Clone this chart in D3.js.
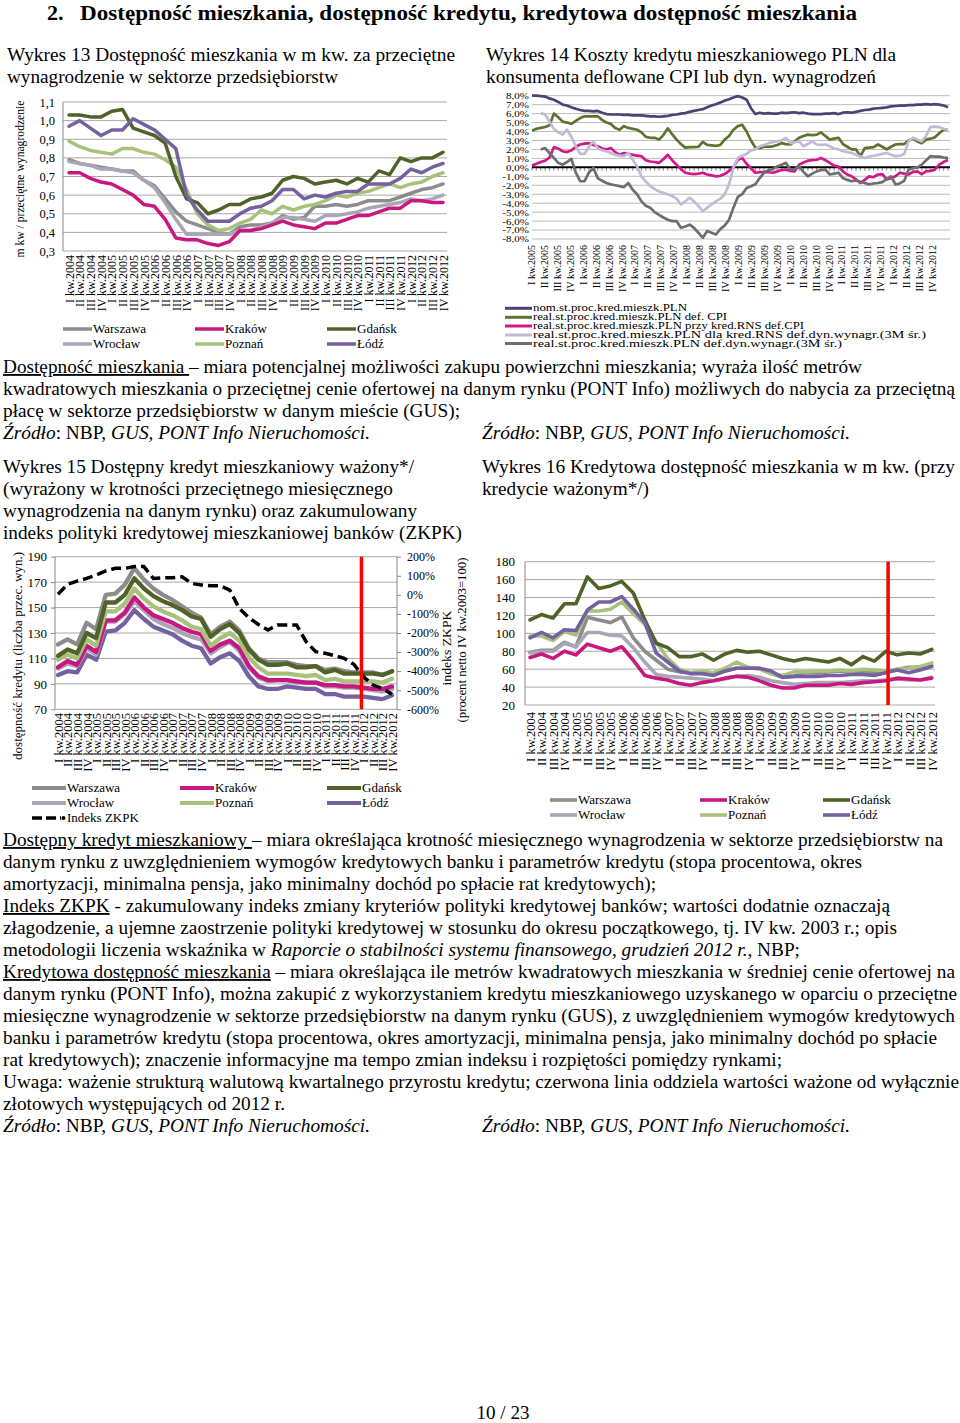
<!DOCTYPE html>
<html>
<head>
<meta charset="utf-8">
<script src="https://cdn.jsdelivr.net/npm/d3@7/dist/d3.min.js"></script>
<style>
  body { margin: 0; background: #fff; }
  svg { display: block; }
</style>
</head>
<body>
<div id="root"></div>
<script>
const serif = '"Liberation Serif", "Times New Roman", serif'

// ---- data -----------------------------------------------------------------
const quarters = [
  'I kw.2004', 'II kw.2004', 'III kw.2004', 'IV kw.2004',
  'I kw.2005', 'II kw.2005', 'III kw.2005', 'IV kw.2005',
  'I kw.2006', 'II kw.2006', 'III kw.2006', 'IV kw.2006',
  'I kw.2007', 'II kw.2007', 'III kw.2007', 'IV kw.2007',
  'I kw.2008', 'II kw.2008', 'III kw.2008', 'IV kw.2008',
  'I kw.2009', 'II kw.2009', 'III kw.2009', 'IV kw.2009',
  'I kw.2010', 'II kw.2010', 'III kw.2010', 'IV kw.2010',
  'I kw.2011', 'II kw.2011', 'III kw.2011', 'IV kw.2011',
  'I kw.2012', 'II kw.2012', 'III kw.2012', 'IV kw.2012',
]
const quarters14 = quarters.slice(4)

// Wykres 13: m kw / przecietne wynagrodzenie
const warszawa13 = [0.79, 0.77, 0.76, 0.75, 0.74, 0.73, 0.73, 0.68, 0.65, 0.58, 0.51, 0.46, 0.44, 0.42, 0.40, 0.39, 0.43, 0.44, 0.44, 0.45, 0.49, 0.47, 0.48, 0.54, 0.54, 0.55, 0.54, 0.55, 0.57, 0.57, 0.57, 0.59, 0.61, 0.63, 0.64, 0.66]
const wroclaw13 = [0.78, 0.77, 0.76, 0.74, 0.74, 0.73, 0.72, 0.68, 0.64, 0.56, 0.47, 0.39, 0.39, 0.39, 0.39, 0.39, 0.41, 0.41, 0.43, 0.45, 0.48, 0.48, 0.47, 0.46, 0.49, 0.49, 0.50, 0.51, 0.53, 0.54, 0.55, 0.56, 0.58, 0.57, 0.58, 0.60]
const krakow13 = [0.72, 0.72, 0.69, 0.67, 0.66, 0.63, 0.60, 0.55, 0.54, 0.47, 0.37, 0.36, 0.36, 0.34, 0.33, 0.35, 0.41, 0.41, 0.42, 0.44, 0.46, 0.44, 0.43, 0.42, 0.45, 0.45, 0.47, 0.49, 0.49, 0.51, 0.53, 0.53, 0.57, 0.57, 0.56, 0.56]
const poznan13 = [0.89, 0.86, 0.84, 0.83, 0.82, 0.85, 0.85, 0.83, 0.82, 0.79, 0.75, 0.63, 0.50, 0.44, 0.41, 0.42, 0.45, 0.47, 0.52, 0.50, 0.54, 0.52, 0.54, 0.55, 0.57, 0.60, 0.59, 0.61, 0.62, 0.64, 0.66, 0.64, 0.66, 0.67, 0.70, 0.72]
const gdansk13 = [1.03, 1.03, 1.02, 1.02, 1.05, 1.06, 0.96, 0.94, 0.92, 0.88, 0.70, 0.58, 0.56, 0.50, 0.52, 0.55, 0.55, 0.58, 0.59, 0.61, 0.68, 0.70, 0.69, 0.66, 0.67, 0.68, 0.66, 0.69, 0.67, 0.73, 0.71, 0.80, 0.78, 0.80, 0.80, 0.83]
const lodz13 = [0.97, 1.00, 0.96, 0.92, 0.95, 0.95, 1.01, 0.98, 0.95, 0.90, 0.85, 0.60, 0.52, 0.46, 0.46, 0.46, 0.50, 0.53, 0.54, 0.57, 0.63, 0.63, 0.58, 0.60, 0.59, 0.61, 0.62, 0.62, 0.66, 0.66, 0.66, 0.69, 0.74, 0.72, 0.75, 0.77]

// Wykres 14: monthly, I 2005 - XII 2012 (%)
const nomPLN = [
  8.0, 8.0, 7.95, 7.9, 7.7, 7.55, 7.3, 7.0, 6.9, 6.7, 6.55, 6.4,
  6.3, 6.3, 6.25, 6.3, 6.1, 5.95, 5.9, 5.9, 5.9, 5.85, 5.85, 5.8,
  5.8, 5.8, 5.75, 5.7, 5.7, 5.65, 5.7, 5.75, 5.85, 5.9, 6.0, 6.05,
  6.2, 6.3, 6.4, 6.5, 6.7, 6.9, 7.05, 7.25, 7.45, 7.6, 7.8, 7.95,
  7.8, 7.55, 6.6, 5.95, 6.1, 6.0, 6.05, 6.0, 6.0, 6.1, 6.05, 6.1,
  6.15, 6.05, 6.1, 6.0, 5.95, 5.95, 5.95, 6.0, 6.0, 6.05, 5.95, 6.1,
  6.15, 6.1, 6.2, 6.3, 6.4, 6.45, 6.55, 6.6, 6.65, 6.7, 6.8, 6.85,
  6.9, 6.9, 6.95, 6.95, 7.0, 7.0, 7.05, 7.0, 7.05, 7.0, 6.9, 6.7,
]
const realCPI = [
  4.1, 4.3, 4.4, 4.5, 4.7, 6.0, 5.6, 5.1, 5.0, 4.85, 5.2, 5.5,
  5.7, 5.7, 5.7, 5.7, 5.3, 5.0, 4.85, 4.4, 4.2, 4.6, 4.4, 4.3,
  4.2, 3.9, 3.4, 3.3, 3.3, 3.1, 3.6, 4.35, 3.7, 3.1, 2.6, 2.2,
  2.25, 2.25, 2.3, 2.85, 2.5, 2.45, 2.4, 2.5, 3.1, 3.5, 4.2, 4.6,
  4.75, 4.0, 3.0, 2.2, 2.15, 2.3, 2.3, 2.35, 2.5, 2.7, 2.6, 2.55,
  2.9, 3.3, 3.5, 3.65, 3.6, 3.65, 3.9, 3.5, 3.1, 3.2, 3.3, 2.6,
  2.3, 2.0, 2.0, 1.25, 2.15, 2.2, 2.25, 2.55, 2.3, 2.0, 2.3, 2.55,
  2.6, 2.6, 3.0, 3.2, 2.9, 2.7, 3.1, 3.2, 3.35, 3.8, 4.2, 4.2,
]
const realRnsCPI = [
  0.2, 0.4, 0.6, 0.75, 1.1, 2.25, 2.1, 1.8, 1.7, 1.9, 2.3, 2.55,
  2.65, 2.7, 2.5, 2.35, 2.1, 2.0, 2.15, 1.7, 1.4, 1.6, 1.5, 1.4,
  1.3, 1.25, 0.8, 0.65, 0.6, 0.5, 0.9, 1.4, 0.8, 0.3, -0.2, -0.6,
  -0.7, -0.75, -0.7, -0.6, -0.8, -0.9, -1.0, -0.95, -0.75, -0.4, 0.0, 0.85,
  1.05, 0.4, -0.1, -0.6, -0.55, -0.5, -0.55, -0.6, -0.45, -0.3, -0.25, -0.4,
  -0.45, 0.3, 0.55, 0.75, 0.8, 0.85, 1.05, 0.8, 0.5, 0.2, 0.1, -0.45,
  -0.8, -1.0, -1.35, -1.75, -1.4, -1.0, -1.1, -0.8, -0.75, -1.35, -1.2, -1.0,
  -0.6, -0.7, -0.8, -0.5, -0.45, -0.75, -0.45, -0.4, -0.25, 0.3, 0.6, 0.85,
]
const realRnsWage = [
  null, null, 6.05, 5.9, 5.1, 4.3, 3.9, 3.65, 4.2, 3.4, 2.35, 1.5,
  1.5, 2.3, 2.9, 2.15, 1.9, 1.8, 1.6, 1.4, 1.3, 1.25, 1.6, 0.85,
  0.1, -1.0, -1.6, -2.1, -2.4, -2.7, -2.85, -3.0, -3.2, -3.5, -4.15, -3.8,
  -3.4, -3.8, -4.3, -4.9, -4.5, -4.15, -3.8, -3.5, -3.0, -1.9, -0.05, 1.05,
  1.3, 1.5, 1.9, 2.0, 2.35, 2.5, 2.7, 2.8, 2.9, 3.0, 3.3, 2.7,
  2.8, 2.9, 2.35, 2.6, 2.9, 2.55, 2.5, 2.55, 2.35, 2.1, 2.0, 1.8,
  1.7, 1.6, 1.4, 1.2, 1.05, 1.2, 1.3, 1.4, 1.5, 1.6, 1.4, 1.25,
  1.3, 1.5, 2.9, 3.3, 3.1, 2.9, 3.5, 4.5, 4.55, 4.5, 4.3, 4.2,
]
const realWage = [
  null, null, 2.0, 2.15, 1.6, 1.05, 0.5, 0.3, 0.6, 0.95, -0.6, -1.55,
  -1.55, -0.6, -0.05, -1.2, -1.5, -1.75, -1.9, -2.0, -2.1, -2.2, -1.75, -2.5,
  -3.0, -3.8, -4.3, -4.5, -5.0, -5.3, -5.6, -5.85, -6.0, -6.0, -6.75, -6.6,
  -6.4, -6.75, -7.3, -7.85, -7.1, -7.3, -7.5, -6.9, -6.5, -5.85, -4.5, -3.3,
  -3.0, -2.3, -2.1, -1.9, -1.2, -0.6, -0.3, -0.2, 0.1, 0.3, 0.5, -0.25,
  -0.2, 0.1, -0.5, -1.0, -0.7, -0.45, -0.3, -0.25, -0.8, -0.7, -0.6, -1.2,
  -1.4, -1.55, -1.45, -1.6, -1.75, -1.9, -1.8, -1.75, -1.65, -1.3, -1.0, -1.9,
  -1.8, -1.5, -0.25, -0.1, 0.0, 0.3, 0.8, 1.25, 1.2, 1.2, 1.1, 1.05,
]
const labels14 = [
  'nom.st.proc.kred.mieszk.PLN',
  'real.st.proc.kred.mieszk.PLN def. CPI',
  'real.st.proc.kred.mieszk.PLN przy kred.RNS def.CPI',
  'real.st.proc.kred.mieszk.PLN dla kred.RNS def.dyn.wynagr.(3M śr.)',
  'real.st.proc.kred.mieszk.PLN def.dyn.wynagr.(3M śr.)',
]

// Wykres 15: dostepny kredyt (liczba przec. wyn.) + indeks ZKPK (%)
const warszawa15 = [121, 125, 121, 138, 133, 160, 161, 168, 181, 172, 165, 160, 156, 151, 146, 142, 129, 135, 139, 132, 118, 110, 107, 107, 107, 105, 104, 104, 101, 102, 100, 99, 99, 99, 97, 100]
const wroclaw15 = [102, 106, 104, 118, 113, 139, 139, 145, 155, 148, 141, 137, 134, 130, 127, 125, 114, 119, 123, 116, 103, 95, 92, 93, 93, 91, 91, 91, 88, 88, 87, 87, 86, 85, 84, 86]
const krakow15 = [103, 108, 105, 120, 115, 140, 140, 146, 158, 150, 144, 141, 138, 134, 131, 129, 116, 121, 124, 118, 104, 96, 93, 93, 93, 92, 91, 91, 89, 89, 88, 88, 87, 86, 86, 88]
const poznan15 = [109, 113, 110, 125, 120, 147, 147, 153, 165, 157, 151, 147, 144, 140, 135, 133, 120, 126, 130, 124, 111, 103, 98, 98, 98, 97, 96, 97, 93, 94, 92, 92, 92, 92, 91, 94]
const gdansk15 = [112, 117, 114, 130, 126, 154, 154, 160, 173, 165, 159, 155, 152, 148, 143, 141, 127, 133, 137, 130, 117, 109, 105, 105, 106, 103, 103, 104, 99, 101, 98, 98, 98, 98, 97, 100]
const lodz15 = [97, 100, 99, 113, 109, 131, 132, 138, 148, 141, 135, 132, 129, 124, 120, 118, 106, 111, 114, 108, 96, 88, 86, 86, 88, 87, 86, 86, 82, 82, 80, 80, 80, 79, 78, 81]
const zkpk = [3, 55, 72, 86, 104, 125, 139, 139, 148, 148, 86, 90, 90, 95, 60, 52, 48, 48, 25, -71, -120, -155, -184, -158, -158, -158, -245, -298, -306, -319, -333, -364, -429, -473, -490, -521]

// Wykres 16: kredytowa dostepnosc mieszkania (m kw.)
const warszawa16 = [79, 81, 81, 90, 85, 118, 115, 112, 118, 95, 80, 70, 60, 57, 56, 57, 55, 58, 61, 61, 61, 55, 51, 52, 56, 56, 57, 58, 57, 57, 56, 57, 60, 62, 62, 64]
const wroclaw16 = [78, 80, 80, 89, 85, 101, 101, 98, 97, 84, 68, 54, 52, 51, 50, 49, 47, 49, 52, 53, 51, 47, 45, 43, 44, 45, 45, 45, 46, 47, 47, 48, 49, 48, 48, 51]
const krakow16 = [73, 77, 72, 80, 76, 88, 84, 80, 85, 70, 53, 50, 48, 44, 42, 45, 47, 50, 52, 51, 47, 42, 39, 39, 42, 42, 42, 44, 43, 45, 46, 47, 50, 49, 48, 50]
const poznan16 = [97, 97, 92, 102, 98, 125, 125, 127, 135, 122, 110, 90, 72, 60, 56, 58, 56, 61, 68, 62, 60, 55, 53, 57, 57, 58, 58, 59, 58, 60, 59, 58, 60, 61, 63, 67]
const gdansk16 = [115, 121, 117, 133, 133, 163, 150, 153, 158, 145, 115, 89, 84, 74, 74, 77, 70, 77, 81, 79, 80, 76, 72, 69, 72, 70, 68, 72, 65, 74, 69, 80, 76, 78, 77, 82]
const lodz16 = [95, 101, 95, 104, 103, 126, 135, 135, 141, 127, 112, 78, 68, 58, 55, 55, 53, 58, 61, 61, 61, 58, 51, 52, 52, 52, 53, 53, 54, 54, 53, 56, 59, 56, 59, 63]

// position (in quarter index) of the red separator line
const redLine15 = 31.8
const redLine16 = 31.2

// ---- styles -----------------------------------------------------------------
const cityColor = {
  'Warszawa': '#8c8c8c', 'Wrocław': '#aaa6b8', 'Kraków': '#c8177f',
  'Poznań': '#a8c27c', 'Gdańsk': '#4f6228', 'Łódź': '#7461a0',
}
const legendOrder = ['Warszawa', 'Kraków', 'Gdańsk', 'Wrocław', 'Poznań', 'Łódź']
const colors14 = ['#4e4275', '#5c7430', '#d4168b', '#c2bad6', '#6e6e6e']

const svg = d3.select('#root').append('svg').attr('width', 960).attr('height', 1423)
  .attr('font-family', serif)

// ---- text helpers ---------------------------------------------------------------
function textLine(x, y, parts, opt = {}) {
  const t = svg.append('text').attr('x', x).attr('y', y)
    .attr('font-size', opt.size || 18.5)
    .attr('font-weight', opt.bold ? 'bold' : null)
  if (opt.width) t.attr('textLength', opt.width).attr('lengthAdjust', 'spacingAndGlyphs')
  const list = typeof parts === 'string' ? [[parts]] : parts
  for (const [s, st = ''] of list) {
    t.append('tspan').text(s)
      .attr('font-style', st.includes('i') ? 'italic' : null)
      .attr('text-decoration', st.includes('u') ? 'underline' : null)
  }
  return t
}

function rotLabel(x, y, s, size, width) {
  const t = svg.append('text').attr('transform', `translate(${x},${y}) rotate(-90)`)
    .attr('text-anchor', 'middle').attr('font-size', size).text(s)
  if (width) t.attr('textLength', width).attr('lengthAdjust', 'spacingAndGlyphs')
}

const pct = (d) => (d < 0 ? '-' : '') + Math.abs(d).toFixed(1).replace('.', ',') + '%'

function grid(g, y, ticks, x0, x1, color) {
  g.append('g').selectAll('line').data(ticks).join('line')
    .attr('x1', x0).attr('x2', x1)
    .attr('y1', (d) => y(d)).attr('y2', (d) => y(d))
    .attr('stroke', color).attr('stroke-width', 1)
}

function styleAxis(a, size) {
  a.attr('font-family', serif).attr('font-size', size)
  a.select('.domain').remove()
  a.selectAll('line').attr('stroke', '#888')
  a.selectAll('text').attr('fill', '#000')
}

function xLabels(g, x, domain, top, size) {
  const a = g.append('g').attr('transform', `translate(0,${top})`)
    .call(d3.axisBottom(x).tickValues(domain).tickSize(0))
  styleAxis(a, size)
  a.selectAll('text').attr('transform', 'rotate(-90)')
    .attr('text-anchor', 'end').attr('x', 0).attr('y', 0).attr('dy', '0.35em')
}

function cityLegend(x0s, rows, swatchW, size, lw) {
  const items = legendOrder.map((name, i) => ({ name, x: x0s[i % 3], y: rows[Math.floor(i / 3)] }))
  const g = svg.append('g')
  g.selectAll('line').data(items).join('line')
    .attr('x1', (d) => d.x).attr('x2', (d) => d.x + swatchW)
    .attr('y1', (d) => d.y).attr('y2', (d) => d.y)
    .attr('stroke', (d) => cityColor[d.name]).attr('stroke-width', lw)
  g.selectAll('text').data(items).join('text')
    .attr('x', (d) => d.x + swatchW + 1).attr('y', (d) => d.y + size * 0.33)
    .attr('font-size', size).text((d) => d.name)
}

function cityLines(g, xi, y, series, lw) {
  const line = d3.line().x((d, i) => xi(i)).y((d) => y(d)).curve(d3.curveLinear)
  g.append('g').selectAll('path').data(series).join('path')
    .attr('d', (d) => line(d.values))
    .attr('fill', 'none').attr('stroke', (d) => cityColor[d.name])
    .attr('stroke-width', lw).attr('stroke-linejoin', 'round').attr('stroke-linecap', 'round')
}

// ---- page header --------------------------------------------------------------
textLine(47, 20, '2.', { size: 22, bold: true })
textLine(80, 20, 'Dostępność mieszkania, dostępność kredytu, kredytowa dostępność mieszkania', { size: 22, bold: true, width: 777 })

// ---- Wykres 13 ----------------------------------------------------------------------
textLine(7, 61, 'Wykres 13 Dostępność mieszkania w m kw. za przeciętne', { width: 448 })
textLine(7, 83, 'wynagrodzenie w sektorze przedsiębiorstw', { width: 331 })
{
  const g = svg.append('g')
  const x0 = 63, x1 = 447
  const y = d3.scaleLinear().domain([0.3, 1.1]).range([251, 102])
  const x = d3.scalePoint().domain(quarters).range([69, 443])
  const xi = d3.scaleLinear().domain([0, quarters.length - 1]).range([69, 443])
  const ticks = d3.range(3, 12).map((d) => d / 10)
  grid(g, y, ticks, x0, x1, '#a8a8a8')
  g.append('line').attr('x1', x0).attr('x2', x0).attr('y1', 102).attr('y2', 251).attr('stroke', '#888')
  const ay = g.append('g').attr('transform', `translate(${x0},0)`)
    .call(d3.axisLeft(y).tickValues(ticks).tickSize(0).tickPadding(8)
      .tickFormat((d) => d.toFixed(1).replace('.', ',')))
  styleAxis(ay, 12.5)
  xLabels(g, x, quarters, 255, 12)
  cityLines(g, xi, y, [
    { name: 'Warszawa', values: warszawa13 },
    { name: 'Wrocław', values: wroclaw13 },
    { name: 'Kraków', values: krakow13 },
    { name: 'Poznań', values: poznan13 },
    { name: 'Gdańsk', values: gdansk13 },
    { name: 'Łódź', values: lodz13 },
  ], 3.5)
  rotLabel(24, 179, 'm kw / przeciętne wynagrodzenie', 13, 157)
  cityLegend([63, 195, 327], [329, 344], 29, 13, 3.5)
}

// ---- Wykres 14 ----------------------------------------------------------------------
textLine(486, 61, 'Wykres 14 Koszty kredytu mieszkaniowego PLN dla', { width: 410 })
textLine(486, 83, 'konsumenta deflowane CPI lub dyn. wynagrodzeń', { width: 390 })
{
  const g = svg.append('g')
  const x0 = 532, x1 = 950
  const y = d3.scaleLinear().domain([-8, 8]).range([239, 95.7])
  const xm = d3.scaleLinear().domain([0, nomPLN.length - 1]).range([532, 948])
  const xq = d3.scalePoint().domain(quarters14).range([531, 932])
  const ticks = d3.range(-8, 9)
  grid(g, y, ticks.filter((d) => d !== 0), x0, x1, '#bcbcbc')
  const ay = g.append('g').attr('transform', `translate(${x0},0)`)
    .call(d3.axisLeft(y).tickValues(ticks).tickSize(0).tickPadding(3).tickFormat(pct))
  styleAxis(ay, 9.2)
  ay.selectAll('text').attr('textLength', function () { return this.getComputedTextLength() * 1.2 })
    .attr('lengthAdjust', 'spacingAndGlyphs')
  // monthly tick marks on the category axis crossing at 0
  g.append('g').selectAll('line').data(nomPLN).join('line')
    .attr('x1', (d, i) => xm(i)).attr('x2', (d, i) => xm(i))
    .attr('y1', y(0)).attr('y2', y(0) + 3.5)
    .attr('stroke', '#9a9a9a').attr('stroke-width', 1.2)
  g.append('line').attr('x1', x0).attr('x2', x1).attr('y1', y(0)).attr('y2', y(0))
    .attr('stroke', '#000').attr('stroke-width', 2)
  xLabels(g, xq, quarters14, 245, 10)
  const series = [nomPLN, realCPI, realRnsCPI, realRnsWage, realWage]
  const line = d3.line().defined((d) => d != null).x((d, i) => xm(i)).y((d) => y(d))
  g.append('g').selectAll('path').data(series).join('path')
    .attr('d', (d) => line(d)).attr('fill', 'none')
    .attr('stroke', (d, i) => colors14[i]).attr('stroke-width', 2.7)
    .attr('stroke-linejoin', 'round')
  const rows = [308.3, 317.3, 326, 335, 343.5]
  const widths = [154, 194, 271, 393, 309]
  const lg = svg.append('g')
  lg.selectAll('line').data(labels14).join('line')
    .attr('x1', 505).attr('x2', 532).attr('y1', (d, i) => rows[i]).attr('y2', (d, i) => rows[i])
    .attr('stroke', (d, i) => colors14[i]).attr('stroke-width', 3)
  lg.selectAll('text').data(labels14).join('text')
    .attr('x', 533).attr('y', (d, i) => rows[i] + 3).attr('font-size', 9.5)
    .attr('textLength', (d, i) => widths[i]).attr('lengthAdjust', 'spacingAndGlyphs')
    .text((d) => d)
}

// ---- text block 1 -------------------------------------------------------------------
textLine(3, 373, [['Dostępność mieszkania ', 'u'], ['– miara potencjalnej możliwości zakupu powierzchni mieszkania; wyraża ilość metrów']], { width: 859 })
textLine(3, 395, 'kwadratowych mieszkania o przeciętnej cenie ofertowej na danym rynku (PONT Info) możliwych do nabycia za przeciętną', { width: 952 })
textLine(3, 417, 'płacę w sektorze przedsiębiorstw w danym mieście (GUS);', { width: 457 })
const source = [['Źródło', 'i'], [': NBP, '], ['GUS, PONT Info Nieruchomości.', 'i']]
textLine(3, 439, source, { width: 367 })
textLine(482, 439, source, { width: 368 })

// ---- Wykres 15 ----------------------------------------------------------------------
textLine(3, 473, 'Wykres 15 Dostępny kredyt mieszkaniowy ważony*/', { width: 411 })
textLine(3, 495, '(wyrażony w krotności przeciętnego miesięcznego', { width: 390 })
textLine(3, 517, 'wynagrodzenia na danym rynku) oraz zakumulowany', { width: 414 })
textLine(3, 539, 'indeks polityki kredytowej mieszkaniowej banków (ZKPK)', { width: 459 })
{
  const g = svg.append('g')
  const x0 = 55, x1 = 397, yTop = 556.7, yBot = 709.3
  const y = d3.scaleLinear().domain([70, 190]).range([yBot, yTop])
  const yR = d3.scaleLinear().domain([-600, 200]).range([yBot, yTop])
  const x = d3.scalePoint().domain(quarters).range([58, 392])
  const xi = d3.scaleLinear().domain([0, quarters.length - 1]).range([58, 392])
  const ticks = d3.range(70, 191, 20)
  grid(g, y, ticks, x0, x1, '#a8a8a8')
  g.append('line').attr('x1', x0).attr('x2', x0).attr('y1', yTop).attr('y2', yBot).attr('stroke', '#888')
  g.append('line').attr('x1', x1).attr('x2', x1).attr('y1', yTop).attr('y2', yBot).attr('stroke', '#888')
  const ay = g.append('g').attr('transform', `translate(${x0},0)`)
    .call(d3.axisLeft(y).tickValues(ticks).tickSize(4).tickPadding(4))
  styleAxis(ay, 13)
  const ar = g.append('g').attr('transform', `translate(${x1},0)`)
    .call(d3.axisRight(yR).tickValues(d3.range(-600, 201, 100)).tickSize(4).tickPadding(6)
      .tickFormat((d) => (d < 0 ? '-' : '') + Math.abs(d) + '%'))
  styleAxis(ar, 12)
  xLabels(g, x, quarters, 713, 12.5)
  cityLines(g, xi, y, [
    { name: 'Łódź', values: lodz15 },
    { name: 'Wrocław', values: wroclaw15 },
    { name: 'Kraków', values: krakow15 },
    { name: 'Poznań', values: poznan15 },
    { name: 'Warszawa', values: warszawa15 },
    { name: 'Gdańsk', values: gdansk15 },
  ], 4.3)
  g.append('path')
    .attr('d', d3.line().x((d, i) => xi(i)).y((d) => yR(d))(zkpk))
    .attr('fill', 'none').attr('stroke', '#000').attr('stroke-width', 3.5)
    .attr('stroke-dasharray', '10,5')
  g.append('line').attr('x1', xi(redLine15)).attr('x2', xi(redLine15))
    .attr('y1', yTop).attr('y2', yBot).attr('stroke', '#ff0000').attr('stroke-width', 3.5)
  rotLabel(22, 656, 'dostępność kredytu  (liczba przec. wyn.)', 13, 208)
  rotLabel(451, 648, 'indeks  ZKPK', 13, 75)
  rotLabel(466, 640, '(procent netto  IV kw.2003=100)', 13, 165)
  cityLegend([32, 180, 327], [788, 803], 34, 13, 4)
  svg.append('line').attr('x1', 32).attr('x2', 61).attr('y1', 818).attr('y2', 818)
    .attr('stroke', '#000').attr('stroke-width', 3.5).attr('stroke-dasharray', '10,4')
  svg.append('circle').attr('cx', 63.5).attr('cy', 818).attr('r', 2).attr('fill', '#000')
  svg.append('text').attr('x', 67).attr('y', 822.3).attr('font-size', 13).text('Indeks ZKPK')
}

// ---- Wykres 16 ----------------------------------------------------------------------
textLine(482, 473, 'Wykres 16 Kredytowa dostępność mieszkania w m kw. (przy', { width: 473 })
textLine(482, 495, 'kredycie ważonym*/)', { width: 167 })
{
  const g = svg.append('g')
  const x0 = 525, x1 = 935, yTop = 561.7, yBot = 705
  const y = d3.scaleLinear().domain([20, 180]).range([yBot, yTop])
  const x = d3.scalePoint().domain(quarters).range([530, 931.7])
  const xi = d3.scaleLinear().domain([0, quarters.length - 1]).range([530, 931.7])
  const ticks = d3.range(20, 181, 20)
  grid(g, y, ticks, x0, x1, '#a8a8a8')
  g.append('line').attr('x1', x0).attr('x2', x0).attr('y1', yTop).attr('y2', yBot).attr('stroke', '#888')
  const ay = g.append('g').attr('transform', `translate(${x0},0)`)
    .call(d3.axisLeft(y).tickValues(ticks).tickSize(0).tickPadding(10))
  styleAxis(ay, 13)
  xLabels(g, x, quarters, 712, 12.5)
  cityLines(g, xi, y, [
    { name: 'Warszawa', values: warszawa16 },
    { name: 'Wrocław', values: wroclaw16 },
    { name: 'Kraków', values: krakow16 },
    { name: 'Poznań', values: poznan16 },
    { name: 'Gdańsk', values: gdansk16 },
    { name: 'Łódź', values: lodz16 },
  ], 3.6)
  g.append('line').attr('x1', xi(redLine16)).attr('x2', xi(redLine16))
    .attr('y1', yTop).attr('y2', yBot).attr('stroke', '#ff0000').attr('stroke-width', 3.5)
  cityLegend([550, 700, 823], [800, 815], 27, 13, 3.6)
}

// ---- text block 2 -------------------------------------------------------------------
const lh = 22, b0 = 846
textLine(3, b0, [['Dostępny kredyt mieszkaniowy ', 'u'], ['– miara określająca krotność miesięcznego wynagrodzenia w sektorze przedsiębiorstw na']], { width: 940 })
textLine(3, b0 + lh, 'danym rynku z uwzględnieniem wymogów kredytowych banku i parametrów kredytu (stopa procentowa, okres', { width: 859 })
textLine(3, b0 + 2 * lh, 'amortyzacji, minimalna pensja, jako minimalny dochód po spłacie rat kredytowych);', { width: 653 })
textLine(3, b0 + 3 * lh, [['Indeks ZKPK', 'u'], [' - zakumulowany indeks zmiany kryteriów polityki kredytowej banków; wartości dodatnie oznaczają']], { width: 887 })
textLine(3, b0 + 4 * lh, 'złagodzenie, a ujemne zaostrzenie polityki kredytowej w stosunku do okresu początkowego, tj. IV kw. 2003 r.; opis', { width: 894 })
textLine(3, b0 + 5 * lh, [['metodologii liczenia wskaźnika w '], ['Raporcie o stabilności systemu finansowego, grudzień 2012 r.', 'i'], [', NBP;']], { width: 797 })
textLine(3, b0 + 6 * lh, [['Kredytowa dostępność mieszkania', 'u'], [' – miara określająca ile metrów kwadratowych mieszkania w średniej cenie ofertowej na']], { width: 952 })
textLine(3, b0 + 7 * lh, 'danym rynku (PONT Info), można zakupić z wykorzystaniem kredytu mieszkaniowego uzyskanego w oparciu o przeciętne', { width: 954 })
textLine(3, b0 + 8 * lh, 'miesięczne wynagrodzenie w sektorze przedsiębiorstw na danym rynku (GUS), z uwzględnieniem wymogów kredytowych', { width: 952 })
textLine(3, b0 + 9 * lh, 'banku i parametrów kredytu (stopa procentowa, okres amortyzacji, minimalna pensja, jako minimalny dochód po spłacie', { width: 934 })
textLine(3, b0 + 10 * lh, 'rat kredytowych); znaczenie informacyjne ma tempo zmian indeksu i rozpiętości pomiędzy rynkami;', { width: 779 })
textLine(3, b0 + 11 * lh, 'Uwaga: ważenie strukturą walutową kwartalnego przyrostu kredytu; czerwona linia oddziela wartości ważone od wyłącznie', { width: 956 })
textLine(3, b0 + 12 * lh, 'złotowych występujących od 2012 r.', { width: 282 })
textLine(3, b0 + 13 * lh, source, { width: 367 })
textLine(482, b0 + 13 * lh, source, { width: 368 })

// ---- page number --------------------------------------------------------------------
svg.append('text').attr('x', 503).attr('y', 1419).attr('text-anchor', 'middle')
  .attr('font-size', 19).text('10 / 23')
</script>
</body>
</html>
